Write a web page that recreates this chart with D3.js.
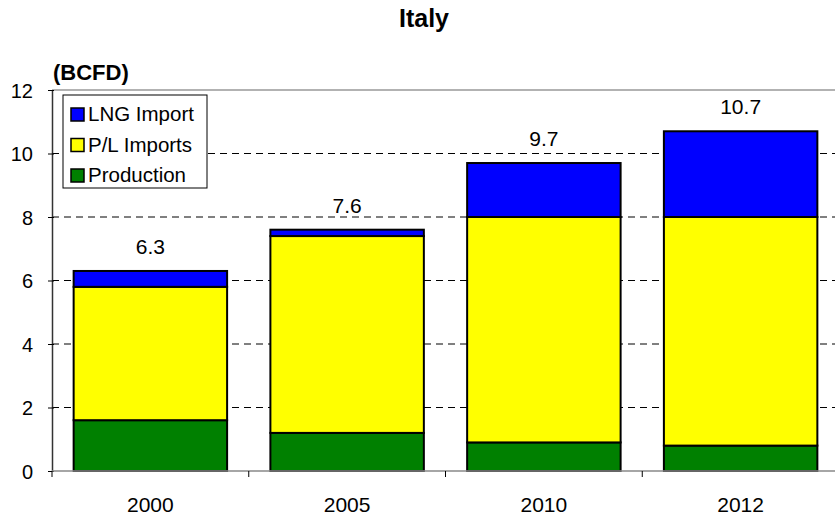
<!DOCTYPE html>
<html><head><meta charset="utf-8">
<script src="https://cdn.jsdelivr.net/npm/d3@7"></script>
<style>body{margin:0;background:#fff}svg{display:block;font-family:"Liberation Sans",Arial,sans-serif}</style>
</head><body><svg id="c" width="835" height="517"></svg>
<script>
const years = ["2000","2005","2010","2012"];
const production = [1.6, 1.2, 0.9, 0.8];
const plImports = [4.2, 6.2, 7.1, 7.2];
const lngImport = [0.5, 0.2, 1.7, 2.7];
const totals = [6.3, 7.6, 9.7, 10.7];
const yTicks = [0,2,4,6,8,10,12];
const seriesNames = ["Production","P/L Imports","LNG Import"];
const seriesColors = ["#008000","#ffff00","#0000ff"];

const svg = d3.select("#c");
const x = d3.scaleBand().domain(years).range([52, 839]).paddingInner(0.22).paddingOuter(0.11);
const y = d3.scaleLinear().domain([0,12]).range([471, 90]);

// gridlines
svg.append("g").selectAll("line").data(yTicks.filter(t=>t>0 && t<12)).join("line")
  .attr("x1",52).attr("x2",839).attr("y1",d=>y(d)).attr("y2",d=>y(d))
  .attr("stroke","#000").attr("stroke-width",1).attr("stroke-dasharray","7,5");
// top border
svg.append("line").attr("x1",52).attr("x2",839).attr("y1",y(12)).attr("y2",y(12)).attr("stroke","#999").attr("stroke-width",1.5);

const rows = years.map((yr,i)=>({year:yr, Production:production[i], "P/L Imports":plImports[i], "LNG Import":lngImport[i]}));
const stack = d3.stack().keys(seriesNames)(rows);
svg.append("g").selectAll("g").data(stack).join("g")
  .attr("fill",(d,i)=>seriesColors[i])
  .selectAll("rect").data(d=>d).join("rect")
  .attr("x",d=>x(d.data.year)).attr("width",x.bandwidth())
  .attr("y",d=>y(d[1])).attr("height",d=>y(d[0])-y(d[1]))
  .attr("stroke","#000").attr("stroke-width",2);

// y axis
const ya = svg.append("g").attr("transform","translate(52,0)")
  .call(d3.axisLeft(y).tickValues(yTicks).tickSize(6).tickSizeOuter(0).tickFormat(d3.format("d")));
ya.select(".domain").attr("stroke","#333").attr("stroke-width",1.5);
ya.selectAll(".tick line").attr("stroke","#000").attr("transform","translate(2,0)");
ya.selectAll("text").attr("font-size",20).attr("fill","#000").attr("x",-19).attr("dy","0.35em");

// x axis
const step = x.step();
const xa = svg.append("g").attr("transform","translate(0,471)");
xa.append("line").attr("x1",52).attr("x2",839).attr("stroke","#888").attr("stroke-width",1.5);
xa.selectAll("line.t").data(d3.range(years.length)).join("line").attr("class","t")
  .attr("x1",i=>52+i*step).attr("x2",i=>52+i*step).attr("y1",0).attr("y2",6).attr("stroke","#000");
xa.selectAll("text").data(years).join("text")
  .attr("x",d=>x(d)+x.bandwidth()/2).attr("y",41).attr("text-anchor","middle")
  .attr("font-size",21).attr("fill","#000").text(d=>d);

// value labels
svg.append("g").selectAll("text").data(years).join("text")
  .attr("x",d=>x(d)+x.bandwidth()/2).attr("y",(d,i)=>y(totals[i])-17)
  .attr("text-anchor","middle").attr("font-size",21).attr("fill","#000")
  .text((d,i)=>totals[i]);

// title
svg.append("text").attr("x",424).attr("y",27).attr("text-anchor","middle")
  .attr("font-size",25).attr("font-weight","bold").text("Italy");
svg.append("text").attr("x",53).attr("y",80).attr("font-size",22).attr("font-weight","bold").text("(BCFD)");

// legend
const lg = svg.append("g");
lg.append("rect").attr("x",63).attr("y",95).attr("width",144).attr("height",93)
  .attr("fill","#fff").attr("stroke","#000").attr("stroke-width",1);
const legItems = [2,1,0];
legItems.forEach((si,k)=>{
  const cy = 114 + k*30.5;
  lg.append("rect").attr("x",71).attr("y",cy-6).attr("width",13).attr("height",13)
    .attr("fill",seriesColors[si]).attr("stroke","#000").attr("stroke-width",1.5);
  lg.append("text").attr("x",88).attr("y",cy+7).attr("font-size",20.5).attr("fill","#000").text(seriesNames[si]);
});
</script></body></html>
